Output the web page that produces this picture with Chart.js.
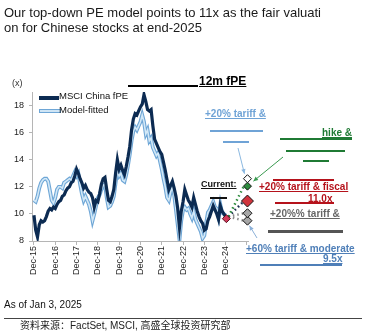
<!DOCTYPE html>
<html lang="en">
<head>
    <meta charset="UTF-8">
    <title>Top-down PE model</title>
    <script src="https://cdn.jsdelivr.net/npm/chart.js"></script>
    <style>
        body {
            margin: 0;
            background: #ffffff;
            font-family: 'Liberation Sans', Arial, sans-serif;
        }

        #wrap {
            position: relative;
            width: 368px;
            height: 336px;
            overflow: hidden;
        }

        #peChart {
            position: absolute;
            left: 0;
            top: 0;
        }

        .txt {
            position: absolute;
            white-space: nowrap;
            line-height: 10px;
            font-size: 10px;
        }

        .bar {
            position: absolute;
            height: 2px;
        }

        .title {
            position: absolute;
            left: 4px;
            top: 5px;
            font-size: 13px;
            line-height: 15px;
            color: #1a1a1a;
        }

        .ann {
            font-weight: bold;
            text-decoration: underline;
        }

        .swatch {
            position: absolute;
            width: 20px;
        }
    </style>
</head>
<body>
<div id="wrap">
    <canvas id="peChart" width="368" height="336"></canvas>

    <!-- Title -->
    <div class="title">Our top-down PE model points to 11x as the fair valuati<br>on for Chinese stocks at end-2025</div>

    <!-- Axis unit -->
    <div class="txt" style="left:12px; top:78px; font-size:9px; color:#333;">(x)</div>

    <!-- Legend -->
    <div class="swatch" style="left:39px; top:96px; height:4px; background:#0c2b52;"></div>
    <div class="txt" style="left:59px; top:91px; font-size:9.5px; color:#111;">MSCI China fPE</div>
    <div class="swatch" style="left:39px; top:109px; height:2px; background:#cfe5f5; border:1px solid #6ea6d6;"></div>
    <div class="txt" style="left:59px; top:105px; font-size:9.5px; color:#111;">Model-fitted</div>

    <!-- 12m fPE header -->
    <div class="bar" style="left:128px; top:85px; width:70px; background:#000;"></div>
    <div class="txt" style="left:199px; top:75px; font-size:12px; line-height:12px; font-weight:bold; text-decoration:underline; color:#000;">12m fPE</div>

    <!-- +20% tariff & (light blue) -->
    <div class="txt ann" style="left:205px; top:109px; color:#6fa3d6;">+20% tariff &amp;</div>
    <div class="bar" style="left:210px; top:130px; width:53px; background:#6fa3d6;"></div>
    <div class="bar" style="left:223px; top:141px; width:26px; background:#6fa3d6;"></div>

    <!-- hike & (green) -->
    <div class="txt ann" style="left:322px; top:128px; color:#1f7a34;">hike &amp;</div>
    <div class="bar" style="left:280px; top:138px; width:72px; background:#1f7a34;"></div>
    <div class="bar" style="left:286px; top:150px; width:59px; background:#1f7a34;"></div>
    <div class="bar" style="left:303px; top:160px; width:26px; background:#1f7a34;"></div>

    <!-- Current -->
    <div class="txt ann" style="left:201px; top:179px; font-size:9px; color:#111;">Current:</div>
    <div class="bar" style="left:210px; top:197px; width:17px; height:1.5px; background:#111;"></div>

    <!-- +20% tariff & fiscal (red) -->
    <div class="bar" style="left:273px; top:179px; width:61px; background:#b5121b;"></div>
    <div class="txt ann" style="left:259px; top:182px; color:#b5121b;">+20% tariff &amp; fiscal</div>
    <div class="txt ann" style="left:308px; top:194px; color:#b5121b;">11.0x</div>
    <div class="bar" style="left:275px; top:202px; width:59px; background:#b5121b;"></div>

    <!-- +20%% tariff & (gray) -->
    <div class="txt ann" style="left:270px; top:209px; color:#666;">+20%% tariff &amp;</div>
    <div class="bar" style="left:268px; top:230px; width:75px; height:2.5px; background:#555;"></div>

    <!-- +60% tariff & moderate (steel blue) -->
    <div class="txt ann" style="left:246px; top:244px; color:#4f7fb8;">+60% tariff &amp; moderate</div>
    <div class="txt ann" style="left:323px; top:254px; color:#4f7fb8;">9.5x</div>
    <div class="bar" style="left:260px; top:264px; width:82px; background:#4f7fb8;"></div>

    <!-- Footer -->
    <div class="txt" style="left:4px; top:300px; color:#111;">As of Jan 3, 2025</div>
    <div style="position:absolute; left:4px; top:318px; width:358px; height:1px; background:#444;"></div>
    <div class="txt" style="left:20px; top:321px; font-size:10px; line-height:10px; color:#222; font-family:'Liberation Sans','Noto Sans CJK SC',sans-serif;">资料来源：FactSet, MSCI, 高盛全球投资研究部</div>
</div>

<script>
    // Monthly series, Dec-15 (month 0) to Dec-24 (month 108)
    const msciFpe = [
        9.9, 8.8, 8.3, 9.2, 9.5, 9.4, 9.5, 9.8, 10.2, 10.4, 10.3, 10.5, 10.4,
        10.7, 10.9, 11.0, 11.3, 11.4, 11.7, 11.9, 12.0, 12.3, 12.4, 12.8, 13.3,
        13.0, 12.6, 12.3, 11.9, 12.1, 11.8, 11.6, 11.5, 11.2, 10.5, 11.0, 10.9,
        11.5, 12.2, 12.6, 12.7, 11.8, 11.0, 10.9, 11.3, 11.8, 13.0, 14.0, 13.3,
        13.6, 13.2, 12.9, 13.5, 14.2, 15.0, 16.2, 17.0, 17.4, 17.3, 17.6, 17.9,
        18.1, 18.8, 18.3, 17.7, 17.6, 17.7, 16.5, 15.5, 15.2, 14.9, 14.6, 14.4,
        13.8, 13.2, 12.5, 11.8, 12.1, 12.4, 11.9, 11.3, 10.4, 9.0, 10.2, 10.9,
        11.8, 11.4, 11.0, 10.8, 10.5, 11.2, 10.7, 10.2, 9.8, 9.5, 9.3, 8.8,
        8.9, 9.5, 9.8, 10.2, 10.6, 10.3, 10.0, 9.6, 10.6, 10.2, 10.0, 9.8
    ];
    const modelFitted = [
        11.0, 10.9, 11.3, 11.9, 12.3, 12.5, 12.6, 12.6, 12.4, 11.7, 11.0, 10.8, 11.2,
        11.8, 12.0, 12.0, 11.9, 12.3, 12.4, 12.5, 12.6, 12.5, 12.8, 13.1, 12.8,
        13.0, 12.2, 11.5, 11.0, 11.3, 11.0, 10.7, 10.2, 9.5, 10.0, 10.6, 11.2,
        11.4, 11.8, 12.1, 12.2, 11.2, 10.5, 10.6, 10.9, 11.3, 12.3, 13.2, 12.8,
        13.0, 12.5, 12.4, 12.9, 13.6, 14.4, 15.4, 16.1, 16.4, 16.2, 16.5, 16.8,
        17.3, 16.8, 15.9, 16.2, 15.4, 15.6, 14.9, 14.6, 14.3, 14.5, 13.9, 13.3,
        12.6, 12.0, 11.2, 11.0, 11.6, 12.0, 11.4, 10.3, 9.2, 8.1, 9.5, 10.3,
        10.5, 10.3, 10.4, 10.0, 9.7, 10.2, 9.6, 9.3, 9.0, 8.7, 8.2, 8.4,
        9.3, 10.1, 10.3, 10.6, 10.9, 10.5, 10.4, 9.8, 10.7, 10.1, 10.0, 9.9
    ];

    // Current level and end-2025 scenarios
    const currentMonth = 108.4;
    const currentValue = 9.65;
    const scenarioMonth = 120.3;
    const scenarioNames = ['+20% tariff', 'hike', '+20% tariff & fiscal', '+20%% tariff', '+60% tariff & moderate'];
    const scenarioValues = [12.6, 12.05, 10.95, 10.05, 9.5];
    const scenarioColors = ['#ffffff', '#2e8b3e', '#d0343c', '#a6a6a6', '#a6a6a6'];
    const scenarioSizes = [4, 4, 6, 4.5, 4.5];

    // Axis ticks
    const xTickMonths = [0, 12, 24, 36, 48, 60, 72, 84, 96, 108, 120];
    const xTickLabels = ['Dec-15', 'Dec-16', 'Dec-17', 'Dec-18', 'Dec-19', 'Dec-20', 'Dec-21', 'Dec-22', 'Dec-23', 'Dec-24', ''];
    const yTicks = [8, 10, 12, 14, 16, 18];

    const toPoints = arr => arr.map((v, i) => ({ x: i, y: v }));

    // Dotted connectors from current level to the scenarios
    const connectorColors = ['#2e8b3e', '#2e8b3e', '#1b2f4f', '#8c8c8c', '#8c8c8c'];
    const connectors = scenarioValues.slice(1).map((v, i) => ({
        type: 'line',
        data: [{ x: currentMonth + 1.2, y: currentValue + 0.15 }, { x: scenarioMonth - 2, y: v }],
        borderColor: connectorColors[i + 1],
        borderWidth: 2.5,
        borderDash: [1.5, 3],
        pointRadius: 0,
        fill: false,
        clip: false
    }));

    // One dataset per scenario diamond
    const scenarioSets = scenarioValues.map((v, i) => ({
        label: scenarioNames[i],
        data: [{ x: scenarioMonth, y: v }],
        showLine: false,
        pointStyle: 'rectRot',
        pointRadius: scenarioSizes[i],
        backgroundColor: scenarioColors[i],
        borderColor: '#111',
        borderWidth: 1,
        clip: false
    }));

    // Arrows from labels to diamonds
    const arrowPlugin = {
        id: 'arrows',
        afterDatasetsDraw(chart) {
            const { ctx, scales: { x, y } } = chart;
            const sx = x.getPixelForValue(scenarioMonth);
            const arrows = [
                { from: [238, 148], to: [sx - 3, y.getPixelForValue(scenarioValues[0]) - 5], color: '#8bb8e0' },
                { from: [283, 157], to: [sx + 6, y.getPixelForValue(scenarioValues[1]) - 5], color: '#3a9a50' },
                { from: [257, 238], to: [sx + 2, y.getPixelForValue(scenarioValues[4]) + 5], color: '#8bb0d8' }
            ];
            ctx.save();
            arrows.forEach(a => {
                const [x0, y0] = a.from, [x1, y1] = a.to;
                const ang = Math.atan2(y1 - y0, x1 - x0);
                ctx.strokeStyle = a.color;
                ctx.fillStyle = a.color;
                ctx.lineWidth = 1;
                ctx.beginPath();
                ctx.moveTo(x0, y0);
                ctx.lineTo(x1, y1);
                ctx.stroke();
                ctx.beginPath();
                ctx.moveTo(x1, y1);
                ctx.lineTo(x1 - 5 * Math.cos(ang - 0.45), y1 - 5 * Math.sin(ang - 0.45));
                ctx.lineTo(x1 - 5 * Math.cos(ang + 0.45), y1 - 5 * Math.sin(ang + 0.45));
                ctx.closePath();
                ctx.fill();
            });
            ctx.restore();
        }
    };

    const tickFont = { family: "'Liberation Sans', Arial, sans-serif", size: 9 };

    new Chart(document.getElementById('peChart'), {
        type: 'line',
        data: {
            datasets: [
                {
                    label: 'Current',
                    data: [{ x: currentMonth, y: currentValue }],
                    showLine: false,
                    pointStyle: 'rectRot',
                    pointRadius: 4,
                    backgroundColor: '#d23a5a',
                    borderColor: '#5a1020',
                    borderWidth: 1,
                    clip: false
                },
                ...scenarioSets,
                ...connectors,
                {
                    label: 'MSCI China fPE',
                    data: toPoints(msciFpe),
                    borderColor: '#0c2b52',
                    borderWidth: 3.2,
                    pointRadius: 0,
                    tension: 0
                },
                {
                    label: 'Model-fitted',
                    data: toPoints(modelFitted),
                    borderColor: '#d2e8f7',
                    borderWidth: 1.6,
                    pointRadius: 0,
                    tension: 0
                },
                {
                    label: 'Model-fitted edge',
                    data: toPoints(modelFitted),
                    borderColor: '#6ea6d6',
                    borderWidth: 3.8,
                    pointRadius: 0,
                    tension: 0
                }
            ]
        },
        options: {
            responsive: false,
            animation: false,
            layout: { padding: { left: 0, top: 92, right: 120, bottom: 0 } },
            plugins: {
                legend: { display: false },
                tooltip: { enabled: false }
            },
            scales: {
                x: {
                    type: 'linear',
                    min: -1.1,
                    max: 120.6,
                    afterBuildTicks: s => { s.ticks = xTickMonths.map(v => ({ value: v })); },
                    afterFit: s => { s.height = 95; },
                    ticks: {
                        autoSkip: false,
                        minRotation: 90,
                        maxRotation: 90,
                        padding: 1,
                        color: '#222',
                        font: tickFont,
                        callback: (v) => xTickLabels[xTickMonths.indexOf(v)]
                    },
                    grid: { drawOnChartArea: false, tickLength: 4, color: '#b5b5b5' },
                    border: { color: '#b5b5b5' }
                },
                y: {
                    min: 8,
                    max: 19,
                    afterBuildTicks: s => { s.ticks = yTicks.map(v => ({ value: v })); },
                    afterFit: s => { s.width = 32; },
                    ticks: { padding: 5, color: '#222', font: tickFont },
                    grid: { drawOnChartArea: false, tickLength: 3, color: '#b5b5b5' },
                    border: { color: '#b5b5b5' }
                }
            }
        },
        plugins: [arrowPlugin]
    });
</script>
</body>
</html>
